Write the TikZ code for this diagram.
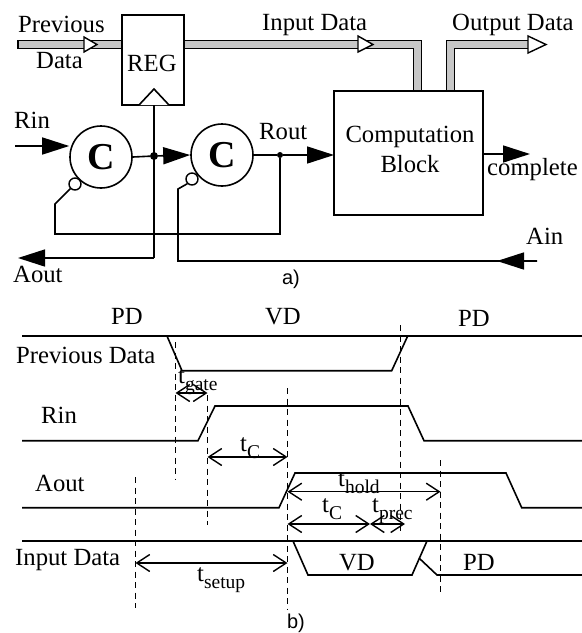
\documentclass[tikz,border=0pt]{standalone}
\usepackage{fontspec}
\setmainfont{Liberation Serif}
\setsansfont{Liberation Sans}
\usetikzlibrary{arrows.meta,calc}
\newcommand{\tsub}[1]{t\raisebox{-0.3em}{\fontsize{19.5}{19.5}\selectfont #1}}
\definecolor{busgray}{gray}{0.78}
\tikzset{
  wire/.style={line width=1.6pt,line join=miter},
  sigarrow/.style={wire,-{Triangle[length=27pt,width=17pt]}},
  bus/.style={preaction={draw=black,line width=9.6pt},draw=busgray,line width=6.4pt},
  busarrow/.style={draw=black,fill=white,line width=1.4pt,line join=miter},
  blockbox/.style={draw=black,line width=1.6pt,inner sep=0pt,fill=white},
  celem/.style={circle,draw=black,line width=1.6pt,minimum size=62pt,inner sep=0pt,fill=white,font=\fontsize{38}{38}\selectfont\bfseries},
  bubble/.style={circle,draw=black,line width=1.4pt,minimum size=12pt,inner sep=0pt,fill=white},
  dotj/.style={circle,fill=black,inner sep=0pt},
  lbl/.style={anchor=base west,inner sep=0pt,font=\fontsize{24.7}{28}\selectfont},
  clbl/.style={anchor=base,inner sep=0pt,font=\fontsize{24.7}{28}\selectfont},
  captxt/.style={anchor=base,inner sep=0pt,font=\sffamily\fontsize{20}{24}\selectfont},
  wave/.style={line width=1.6pt,line join=miter},
  guide/.style={line width=1.4pt,dash pattern=on 6pt off 4.5pt},
  spanarrow/.style={line width=1.4pt,{Straight Barb[length=13pt,width=17pt]}-{Straight Barb[length=13pt,width=17pt]}},
}
\begin{document}
\begin{tikzpicture}[x=1pt,y=-1pt]
\useasboundingbox (0,0) rectangle (582,633);
% ---- a) ----
\node[blockbox,minimum width=62pt,minimum height=90pt] (reg) at (153,60) {};
\node[blockbox,minimum width=149pt,minimum height=124pt] (comp) at (408.5,153) {};
\node[celem] (c1) at (101,157) {C};
\node[celem] (c2) at (222,155) {C};
\node[bubble] (b1) at (75,184) {};
\node[bubble] (b2) at (192,179) {};
\node[dotj,minimum size=8pt] (j1) at (154,156) {};
\node[dotj,minimum size=6pt] (j2) at (280,155) {};
\coordinate (prevstart) at (18,44.5);
\coordinate (incorner) at (417.3,44.5);
\coordinate (outcorner) at (450.5,44.5);
\coordinate (outend) at (530,44.5);
\coordinate (rinstart) at (15,146);
\coordinate (aoutend) at (18,258);
\coordinate (aoutcorner) at (154,258);
\coordinate (clk) at (154,105);
\coordinate (routtip) at (334,155);
\coordinate (comptip) at (530,154);
\coordinate (ainstart) at (537,261);
\coordinate (aintip) at (497,261);
\coordinate (b2knee) at (178,189);
\coordinate (b2low) at (178,261);
\coordinate (b1knee) at (55,204);
\coordinate (b1low) at (55,234);
\coordinate (routlow) at (280,234);
% buses
\draw[bus] (prevstart) -- (prevstart -| reg.west);
\draw[line width=1.4pt] (18,40) -- (18,49);
\draw[bus] (prevstart -| reg.east) -- (incorner) -- (incorner |- comp.north);
\draw[bus] (outcorner |- comp.north) -- (outcorner) -- (outend);
\draw[busarrow] (84,37) -- (97,44.5) -- (84,52) -- cycle;
\draw[busarrow] (358,36) -- (373,44.5) -- (358,52) -- cycle;
\draw[busarrow] (528,36) -- (546,44.5) -- (528,53) -- cycle;
% clock
\draw[wire,fill=white] (139,105) -- (154,89) -- (169,105);
\draw[wire] (clk) -- (aoutcorner);
\draw[sigarrow] (aoutcorner) -- (aoutend);
% handshake
\draw[sigarrow] (rinstart) -- (rinstart -| c1.west);
\draw[wire] (c1.east) -- (j1);
\draw[sigarrow] (j1) -- (c2.west);
\draw[wire] (c2.east) -- (j2);
\draw[sigarrow] (j2) -- (routtip);
\draw[sigarrow] (comp.east |- comptip) -- (comptip);
\draw[wire] (b1.south west) -- (b1knee) -- (b1low) -- (routlow) -- (j2);
\draw[wire] (b2.south west) -- (b2knee) -- (b2low) -- (ainstart);
\draw[sigarrow] (ainstart) -- (aintip);
% labels a)
\node[lbl] (t1) at (18,32) {Previous};
\node[lbl] (t2) at (36,68) {Data};
\node[lbl] (t3) at (127,71) {REG};
\node[lbl] (t4) at (262,30) {Input Data};
\node[lbl] (t5) at (452,30) {Output Data};
\node[lbl] (t6) at (14,128) {Rin};
\node[lbl] (t7) at (259,139) {Rout};
\node[clbl] (t8) at (410,142) {Computation};
\node[clbl] (t9) at (410,172) {Block};
\node[lbl] (t10) at (487,175) {complete};
\node[lbl] (t11) at (526,244) {Ain};
\node[lbl] (t12) at (13,282) {Aout};
\node[captxt] (t13) at (291,284) {a)};
% ---- b) waveforms ----
\draw[wave] (22,336) -- (582,336);
\draw[wave] (167,336) -- (182,370.7) -- (391.7,370.7) -- (407.7,336);
\draw[wave] (22,440.7) -- (198,440.7) -- (215,406) -- (408,406) -- (424,440.7) -- (582,440.7);
\draw[wave] (22,507.7) -- (279,507.7) -- (295,473) -- (506,473) -- (521.7,507.7) -- (582,507.7);
\draw[wave] (22,541) -- (582,541);
\draw[wave] (293,541) -- (308,575) -- (412,575) -- (427,541);
\draw[wave] (419,558) -- (437,575) -- (582,575);
% guides
\coordinate (g1a) at (175.5,342);   \coordinate (g1b) at (175.5,480);
\coordinate (g2a) at (207.5,395);   \coordinate (g2b) at (207.5,525);
\coordinate (g3a) at (287.5,388); \coordinate (g3b) at (287.5,610);
\coordinate (g4a) at (135.5,477);   \coordinate (g4b) at (135.5,608);
\coordinate (g5a) at (400.5,325); \coordinate (g5b) at (400.5,532);
\coordinate (g6a) at (440.5,460); \coordinate (g6b) at (440.5,593);
\foreach \g in {1,...,6} \draw[guide] (g\g a) -- (g\g b);
% spans
\coordinate (tcmid) at (370,524);
\coordinate (tprecend) at (405,524);
\draw[spanarrow] (g1a |- 0,393) -- (g2a |- 0,393);
\draw[spanarrow] (g2a |- 0,457) -- (g3a |- 0,457);
\draw[spanarrow] (g3a |- 0,491.7) -- (g6a |- 0,491.7);
\draw[spanarrow] (g3a |- tcmid) -- (tcmid);
\draw[spanarrow] (tcmid) -- (tprecend);
\draw[spanarrow] (g4a |- 0,563) -- (g3a |- 0,563);
% labels b)
\node[clbl] (l1) at (127,324) {PD};
\node[clbl] (l2) at (283,324) {VD};
\node[clbl] (l3) at (474,326) {PD};
\node[lbl] (l4) at (16,363) {Previous Data};
\node[lbl] (l5) at (41,423) {Rin};
\node[lbl] (l6) at (35,491) {Aout};
\node[lbl] (l7) at (15,565) {Input Data};
\node[lbl] (l8) at (178,383) {\tsub{gate}};
\node[lbl] (l9) at (240,451) {\tsub{C}};
\node[lbl] (l10) at (338,486) {\tsub{hold}};
\node[lbl] (l11) at (322,512) {\tsub{C}};
\node[lbl] (l12) at (372,512) {\tsub{prec}};
\node[lbl] (l13) at (197,581) {\tsub{setup}};
\node[clbl] (l14) at (357,570) {VD};
\node[clbl] (l15) at (479,570) {PD};
\node[captxt] (l16) at (296,628.5) {b)};
\end{tikzpicture}
\end{document}
